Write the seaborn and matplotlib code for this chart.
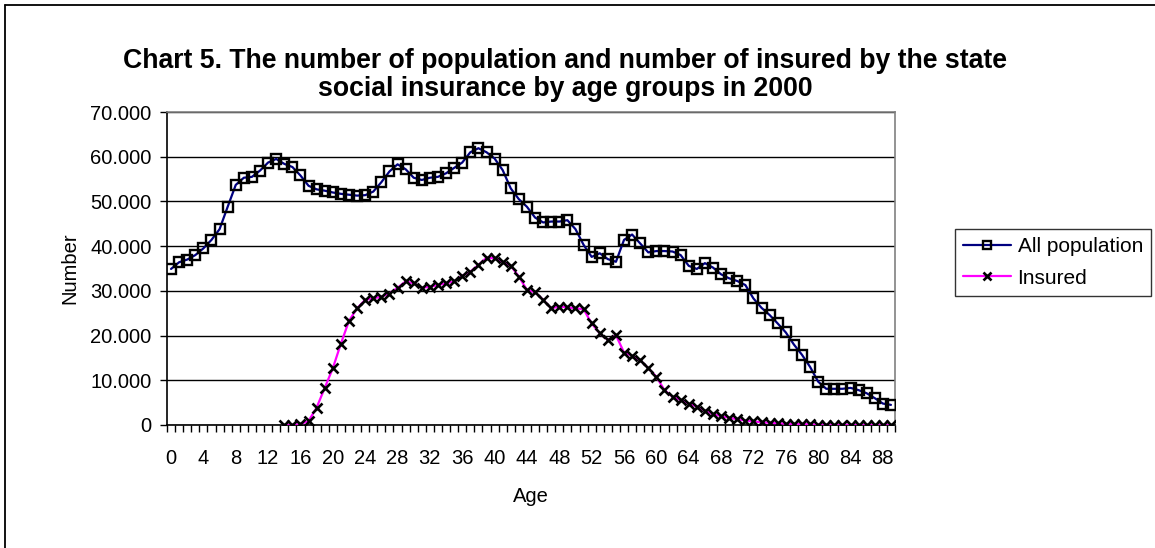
import numpy as np
import pandas as pd
import matplotlib
matplotlib.use("Agg")
import matplotlib.pyplot as plt
from matplotlib.ticker import FuncFormatter, MultipleLocator, FixedLocator
from matplotlib.lines import Line2D
import seaborn as sns

# ages 0..89
ages = list(range(90))

all_population = [
    34900, 36400, 37000, 38000, 39500, 41400, 43800, 48800, 53700, 55300,
    55500, 56900, 58700, 59500, 58400, 57700, 55800, 53500, 52700, 52400,
    52000, 51700, 51500, 51300, 51400, 52200, 54300, 56700, 58300, 57200,
    55300, 54800, 55300, 55500, 56300, 57500, 58700, 61000, 61900, 61000,
    59600, 57000, 52900, 50500, 48800, 46400, 45300, 45500, 45500, 45800,
    43800, 40300, 37600, 38400, 37100, 36500, 41400, 42600, 40600, 38600,
    38900, 38900, 38800, 38000, 35600, 34900, 36200, 35200, 33700, 32800,
    32200, 31300, 28300, 26200, 24600, 22700, 20700, 18000, 15700, 13000,
    9700, 8100, 8100, 8100, 8300, 7800, 7100, 6000, 4800, 4500,
]

# insured start at age 14
insured_ages = list(range(14, 90))
insured = [
    0, 0, 200, 900, 3900, 8300, 12700, 18200, 23300, 26100,
    28000, 28300, 28700, 29400, 30700, 32100, 31700, 30700, 30900, 31300,
    31700, 32100, 33400, 34300, 35800, 37400, 37300, 36500, 35600, 33200,
    30200, 29700, 28000, 26100, 26500, 26300, 26100, 25900, 22700, 20500,
    19000, 20100, 16200, 15500, 14500, 12700, 10800, 7800, 6300, 5600,
    4800, 4100, 3200, 2400, 2000, 1600, 1300, 1000, 800, 600,
    500, 400, 300, 250, 200, 150, 100, 80, 60, 50,
    40, 30, 20, 10, 10, 0,
]

x_labels = [str(a) for a in range(0, 89, 4)]

sns.set_style("white")
plt.rcParams["font.family"] = ["Liberation Sans", "DejaVu Sans"]
plt.rcParams["text.color"] = "black"
plt.rcParams["axes.labelcolor"] = "black"
plt.rcParams["xtick.color"] = "black"
plt.rcParams["ytick.color"] = "black"

fs = 14.5

fig = plt.figure(figsize=(11.55, 5.48), dpi=100)
ax = fig.add_axes([167 / 1155, 1 - 425 / 548, (895 - 167) / 1155, (425 - 112) / 548])

df_all = pd.DataFrame({"Age": ages, "Number": all_population})
df_ins = pd.DataFrame({"Age": insured_ages, "Number": insured})

sns.lineplot(data=df_all, x="Age", y="Number", ax=ax, color="#000080", lw=1.6,
             marker="s", ms=6.5, mfc="none", mec="black", mew=1.7, zorder=3)
sns.lineplot(data=df_ins, x="Age", y="Number", ax=ax, color="#FF00FF", lw=1.6,
             marker="x", ms=7.5, mec="black", mew=1.9, zorder=3)

ax.set_xlim(-0.5, 89.5)
ax.set_ylim(0, 70000)

# y axis
ax.yaxis.set_major_locator(MultipleLocator(10000))
ax.yaxis.set_major_formatter(FuncFormatter(
    lambda v, p: "0" if v == 0 else f"{int(v):,}".replace(",", ".")))
ax.grid(axis="y", color="black", lw=1)
ax.grid(axis="x", visible=False)

# x axis: labels every 4 ages, tick marks between categories
ax.xaxis.set_major_locator(FixedLocator(list(range(0, 89, 4))))
ax.set_xticklabels(x_labels)
ax.xaxis.set_minor_locator(FixedLocator(np.arange(-0.5, 90, 1)))
ax.tick_params(axis="x", which="major", length=0, pad=17, labelsize=fs)
ax.tick_params(axis="x", which="minor", length=5, width=1, color="black", direction="out", bottom=True)
ax.tick_params(axis="y", which="major", length=5, width=1, color="black", direction="out",
               left=True, pad=6, labelsize=fs)

for s in ["left", "bottom"]:
    ax.spines[s].set_color("black")
    ax.spines[s].set_linewidth(1.2)
for s in ["top", "right"]:
    ax.spines[s].set_color("#808080")
    ax.spines[s].set_linewidth(1.2)

ax.set_xlabel("Age", fontsize=fs, labelpad=14)
ax.set_ylabel("Number", fontsize=fs, labelpad=8)

fig.text(565 / 1155, 1 - 75 / 548,
         "Chart 5. The number of population and number of insured by the state\n"
         "social insurance by age groups in 2000",
         ha="center", va="center", fontsize=19.2, fontweight="bold", linespacing=1.08)

handles = [
    Line2D([], [], color="#000080", lw=1.6, marker="s", ms=6, mfc="none", mec="black", mew=1.7),
    Line2D([], [], color="#FF00FF", lw=1.6, marker="x", ms=6, mec="black", mew=1.9),
]
leg = ax.legend(handles, ["All population", "Insured"], loc="center left",
                bbox_to_anchor=(955 / 1155, 1 - 262.5 / 548), bbox_transform=fig.transFigure,
                frameon=True, fancybox=False, edgecolor="black", fontsize=15,
                handlelength=2.3, handletextpad=0.3, borderpad=0.4, labelspacing=0.6,
                borderaxespad=0)
leg.get_frame().set_linewidth(1)

# outer chart frame (cut off at right and bottom)
fig.add_artist(Line2D([5 / 1155, 1], [1 - 5 / 548, 1 - 5 / 548], transform=fig.transFigure,
                      color="black", lw=1.3))
fig.add_artist(Line2D([5 / 1155, 5 / 1155], [0, 1 - 5 / 548], transform=fig.transFigure,
                      color="black", lw=1.3))

fig.savefig("out.png", dpi=100, facecolor="white")
